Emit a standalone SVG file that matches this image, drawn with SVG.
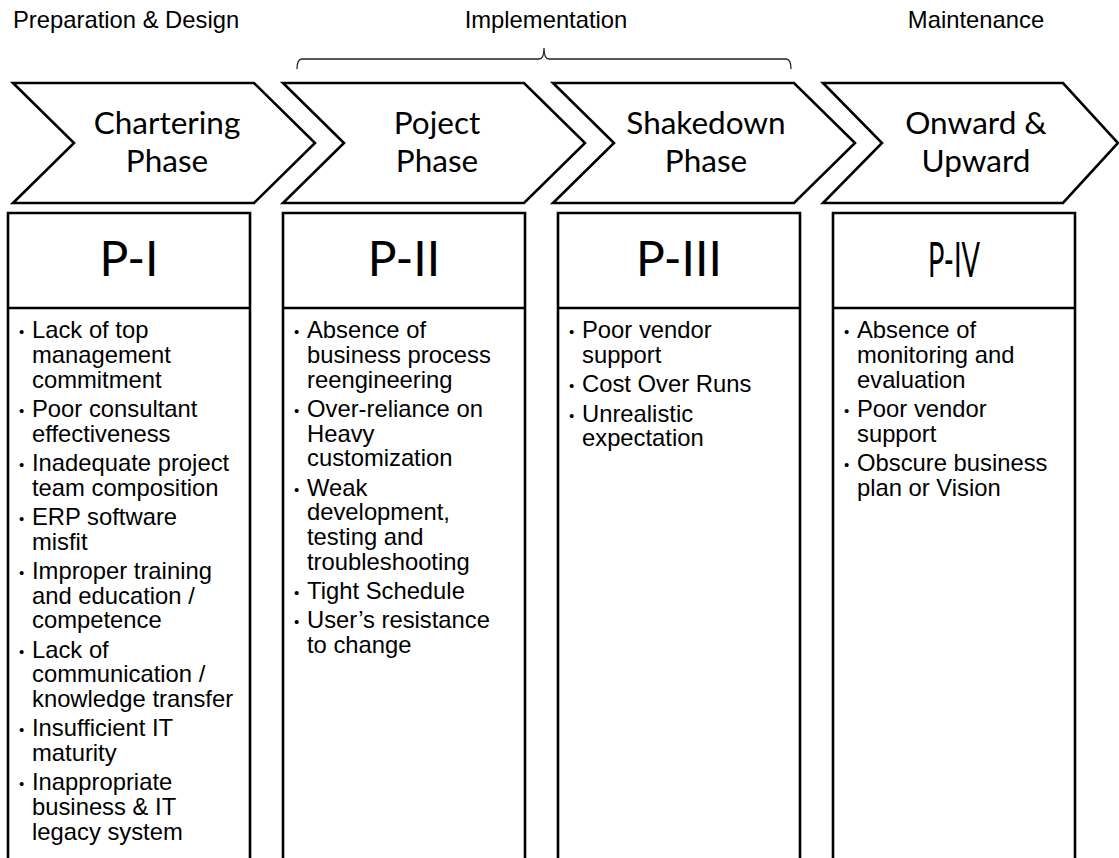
<svg xmlns="http://www.w3.org/2000/svg" width="1119" height="858" viewBox="0 0 1119 858">
<style>
.top{font-family:"Liberation Sans",Arial,sans-serif;font-size:23.8px;fill:#000}
.chev{fill:#fff;stroke:#000;stroke-width:2.6;stroke-linejoin:miter}
.ct{font-family:Lato,"Open Sans",sans-serif;font-size:31.5px;fill:#000;text-anchor:middle}
.box{fill:none;stroke:#000;stroke-width:2.6}
.hd{font-family:Lato,"Open Sans",sans-serif;font-size:48px;fill:#000;text-anchor:middle}
.bt{font-family:"Liberation Sans",Arial,sans-serif;font-size:23.8px;fill:#000}
.bul{font-family:"Liberation Sans",Arial,sans-serif;font-size:15px;fill:#000}
.brace{fill:none;stroke:#222;stroke-width:1.3}
</style>
<rect width="1119" height="858" fill="#fff"/>
<g id="phase-labels">
<text class="top" x="13" y="28">Preparation &amp; Design</text>
<text class="top" x="546" y="28" text-anchor="middle">Implementation</text>
<text class="top" x="976" y="28" text-anchor="middle">Maintenance</text>
</g>
<g id="connectors">
<path class="brace" d="M297,69 Q297,59 302,59 L539,59 Q544,59 544,48 Q544,59 549,59 L786,59 Q791,59 791,69"/>
</g>
<g id="chevron1">
<polygon class="chev" points="13,83 254,83 315,143 254,203 13,203 74,143"/>
<text class="ct" x="167" y="134">Chartering</text>
<text class="ct" x="167" y="172">Phase</text>
</g>
<g id="chevron2">
<polygon class="chev" points="283,83 524,83 585,143 524,203 283,203 344,143"/>
<text class="ct" x="437" y="134">Poject</text>
<text class="ct" x="437" y="172">Phase</text>
</g>
<g id="chevron3">
<polygon class="chev" points="553,83 794,83 855,143 794,203 553,203 614,143"/>
<text class="ct" x="706" y="134">Shakedown</text>
<text class="ct" x="706" y="172">Phase</text>
</g>
<g id="chevron4">
<polygon class="chev" points="823,83 1063,83 1118,143 1063,203 823,203 882,143"/>
<text class="ct" x="976" y="134">Onward &amp;</text>
<text class="ct" x="976" y="172">Upward</text>
</g>
<g id="box1">
<path class="box" d="M8,862 L8,213 L250,213 L250,862 M8,308 L250,308"/>
<text class="hd" x="129" y="276">P-I</text>
<g class="bul">
<text x="19" y="337">•</text><text x="19" y="416">•</text><text x="19" y="470">•</text><text x="19" y="524">•</text><text x="19" y="578">•</text><text x="19" y="657">•</text><text x="19" y="735">•</text><text x="19" y="789">•</text>
</g>
<text class="bt" x="32">
<tspan x="32" y="338.3">Lack of top</tspan>
<tspan x="32" y="363">management</tspan>
<tspan x="32" y="387.7">commitment</tspan>
<tspan x="32" y="417">Poor consultant</tspan>
<tspan x="32" y="441.7">effectiveness</tspan>
<tspan x="32" y="471">Inadequate project</tspan>
<tspan x="32" y="495.7">team composition</tspan>
<tspan x="32" y="525">ERP software</tspan>
<tspan x="32" y="549.7">misfit</tspan>
<tspan x="32" y="579">Improper training</tspan>
<tspan x="32" y="603.7">and education /</tspan>
<tspan x="32" y="628.4">competence</tspan>
<tspan x="32" y="657.7">Lack of</tspan>
<tspan x="32" y="682.4">communication /</tspan>
<tspan x="32" y="707.1">knowledge transfer</tspan>
<tspan x="32" y="736.4">Insufficient IT</tspan>
<tspan x="32" y="761.1">maturity</tspan>
<tspan x="32" y="790.4">Inappropriate</tspan>
<tspan x="32" y="815.1">business &amp; IT</tspan>
<tspan x="32" y="839.8">legacy system</tspan>
</text>
</g>
<g id="box2">
<path class="box" d="M283,862 L283,213 L525,213 L525,862 M283,308 L525,308"/>
<text class="hd" x="404" y="276">P-II</text>
<g class="bul">
<text x="294" y="337">•</text><text x="294" y="416">•</text><text x="294" y="494.7">•</text><text x="294" y="598">•</text><text x="294" y="627.4">•</text>
</g>
<text class="bt" x="307">
<tspan x="307" y="338.3">Absence of</tspan>
<tspan x="307" y="363">business process</tspan>
<tspan x="307" y="387.7">reengineering</tspan>
<tspan x="307" y="417">Over-reliance on</tspan>
<tspan x="307" y="441.7">Heavy</tspan>
<tspan x="307" y="466.4">customization</tspan>
<tspan x="307" y="495.7">Weak</tspan>
<tspan x="307" y="520.4">development,</tspan>
<tspan x="307" y="545.1">testing and</tspan>
<tspan x="307" y="569.8">troubleshooting</tspan>
<tspan x="307" y="599.1">Tight Schedule</tspan>
<tspan x="307" y="628.4">User’s resistance</tspan>
<tspan x="307" y="653.1">to change</tspan>
</text>
</g>
<g id="box3">
<path class="box" d="M558,862 L558,213 L800,213 L800,862 M558,308 L800,308"/>
<text class="hd" x="679" y="276">P-III</text>
<g class="bul">
<text x="569" y="337">•</text><text x="569" y="391.3">•</text><text x="569" y="420.6">•</text>
</g>
<text class="bt" x="582">
<tspan x="582" y="338.3">Poor vendor</tspan>
<tspan x="582" y="363">support</tspan>
<tspan x="582" y="392.3">Cost Over Runs</tspan>
<tspan x="582" y="421.6">Unrealistic</tspan>
<tspan x="582" y="446.3">expectation</tspan>
</text>
</g>
<g id="box4">
<path class="box" d="M833,862 L833,213 L1075,213 L1075,862 M833,308 L1075,308"/>
<text class="hd" x="954" y="277" font-size="46" textLength="52" lengthAdjust="spacingAndGlyphs">P-IV</text>
<g class="bul">
<text x="844" y="337">•</text><text x="844" y="416">•</text><text x="844" y="470">•</text>
</g>
<text class="bt" x="857">
<tspan x="857" y="338.3">Absence of</tspan>
<tspan x="857" y="363">monitoring and</tspan>
<tspan x="857" y="387.7">evaluation</tspan>
<tspan x="857" y="417">Poor vendor</tspan>
<tspan x="857" y="441.7">support</tspan>
<tspan x="857" y="471">Obscure business</tspan>
<tspan x="857" y="495.7">plan or Vision</tspan>
</text>
</g>
</svg>
